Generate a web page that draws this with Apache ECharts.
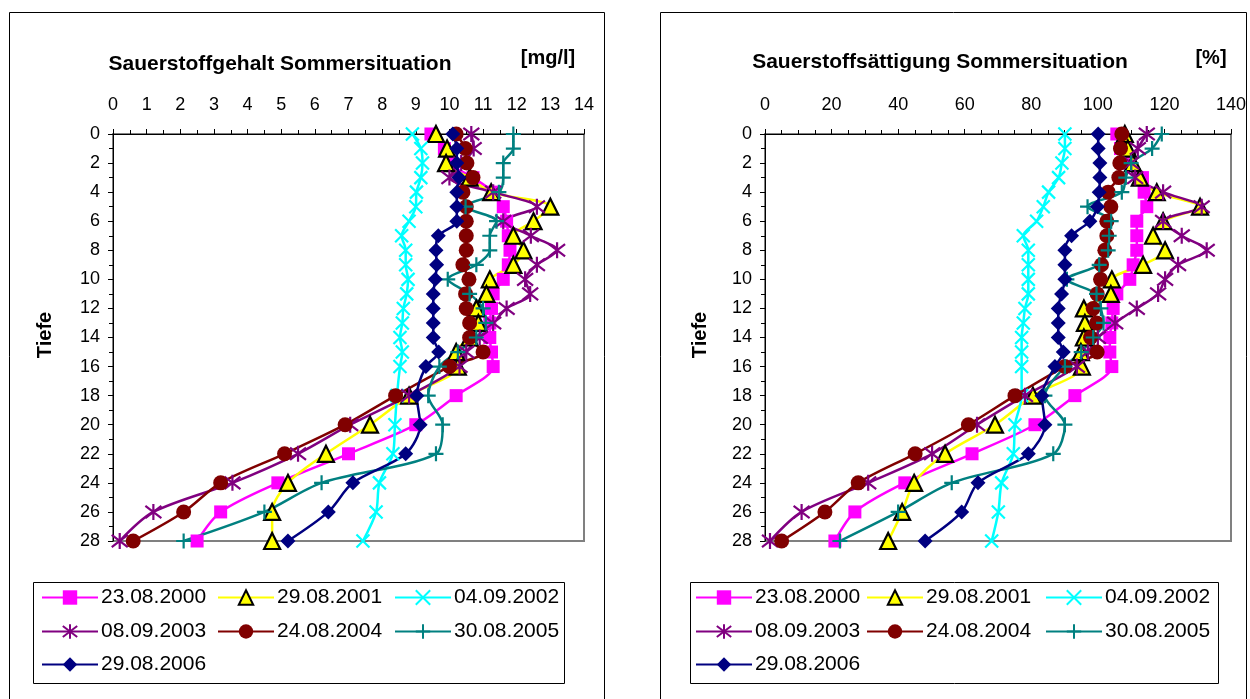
<!DOCTYPE html>
<html><head><meta charset="utf-8">
<script src="https://cdn.jsdelivr.net/npm/echarts@6/dist/echarts.min.js"></script>
<style>html,body{margin:0;padding:0;background:#fff;}#c{width:1250px;height:699px;}</style>
</head><body><div id="c"></div>
<script>
// ---- data ----
const depths = [0,1,2,3,4,5,6,7,8,9,10,11,12,13,14,15,16,18,20,22,24,26,28];
const seriesNames = ['23.08.2000','29.08.2001','04.09.2002','08.09.2003','24.08.2004','30.08.2005','29.08.2006'];

// Sauerstoffgehalt [mg/l]
const mg2000 = [9.45,9.85,10.0,10.7,11.3,11.6,11.7,11.75,11.8,11.75,11.6,11.3,11.25,11.2,11.2,11.25,11.3,10.2,9.0,7.0,4.9,3.2,2.5];
const mg2001 = [9.6,9.93,9.9,10.6,11.24,13.0,12.5,11.9,12.2,11.9,11.2,11.1,10.8,10.86,10.6,10.2,10.25,8.8,7.64,6.33,5.2,4.73,4.73];
const mg2002 = [8.9,9.15,9.2,9.15,9.02,9.0,8.8,8.58,8.7,8.7,8.77,8.73,8.63,8.6,8.53,8.6,8.53,8.44,8.38,8.32,7.92,7.82,7.43];
const mg2003 = [10.65,10.72,10.35,10.0,11.3,12.6,11.6,12.42,13.2,12.6,12.25,12.4,11.7,11.3,10.9,10.5,10.3,8.8,7.05,5.5,3.55,1.2,0.2];
const mg2004 = [10.2,10.47,10.52,10.7,10.4,10.5,10.5,10.5,10.5,10.4,10.58,10.48,10.5,10.6,10.6,11.0,10.0,8.4,6.9,5.1,3.2,2.1,0.6];
const mg2005 = [11.9,11.9,11.6,11.6,11.47,10.48,11.4,11.2,11.2,10.8,9.95,10.6,11.0,11.08,10.8,10.25,9.7,9.37,9.8,9.6,6.2,4.5,2.1];
const mg2006 = [10.1,10.22,10.22,10.28,10.22,10.22,10.22,9.67,9.6,9.62,9.58,9.52,9.52,9.52,9.52,9.68,9.3,9.03,9.13,8.7,7.13,6.4,5.2];

// Sauerstoffsättigung [%]
const sat2000 = [105.7,106.8,107.6,113.4,113.9,114.7,111.7,111.7,111.7,110.6,109.6,105.7,104.6,104.2,103.6,103.6,104.2,93.1,81.1,62.2,42,27,21];
const sat2001 = [108.1,109,110.5,112.6,117.7,130.7,119.6,116.6,120.2,113.6,104.2,103.9,95.8,96.1,95.8,94.9,95.2,80.5,69.1,54.1,44.8,41.2,37];
const sat2002 = [90.1,90.1,89.2,88.2,85.2,83.6,81.6,77.6,79.1,79.1,79.1,79.1,78.1,77.6,77.1,77.1,77.1,77.1,75.1,74.6,71.1,70.1,68.1];
const sat2003 = [114.7,112,110,111.2,119.6,131.2,119.6,125.2,132.7,124.1,120.2,118.1,111.7,105.2,100,97,93.7,78.1,63.7,50.2,31,11,1.5];
const sat2004 = [107.2,106.8,106.6,106.3,103.1,103.9,102.7,102.7,102.1,101.1,100.8,99.8,98.6,99.6,97.8,99.8,90.1,75.1,61.1,45.1,28,18,5];
const sat2005 = [119.2,116.3,110,108.4,107.2,96.9,104,103.4,103.1,100.4,90.7,99.6,100.9,101.7,98.6,95,90.1,84.1,90.1,86.6,56.1,40,22.5];
const sat2006 = [100.1,100.1,100.6,100.6,100.4,99.9,97.6,92.1,90.1,90.1,90.1,89.1,88.1,88.1,88.1,89.6,87.1,83.2,84.1,79.1,64,59.1,48.1];

const mgSeries = [mg2000,mg2001,mg2002,mg2003,mg2004,mg2005,mg2006];
const satSeries = [sat2000,sat2001,sat2002,sat2003,sat2004,sat2005,sat2006];

// ---- styles ----
const FONT = "'Liberation Sans', Arial, sans-serif";
const styles = [
  {color:'#FF00FF', symbol:'rect', size:13, fill:'#FF00FF', stroke:'#FF00FF', bw:0},
  {color:'#FFFF00', symbol:'triangle', size:16, fill:'#FFFF00', stroke:'#000000', bw:2.2},
  {color:'#00FFFF', symbol:'path://M0,0L10,10M10,0L0,10', size:13, fill:'#00FFFF', stroke:'#00FFFF', bw:2.2},
  {color:'#800080', symbol:'path://M0,0L10,10M10,0L0,10M5,-1.5L5,11.5', size:16, fill:'#800080', stroke:'#800080', bw:2.2},
  {color:'#800000', symbol:'circle', size:15, fill:'#800000', stroke:'#800000', bw:0},
  {color:'#008080', symbol:'path://M5,0L5,10M0,5L10,5', size:15, fill:'#008080', stroke:'#008080', bw:2.2},
  {color:'#000080', symbol:'diamond', size:15, fill:'#000080', stroke:'#000080', bw:0}
];

function makeSeries(valsList, axisIdx) {
  return valsList.map((vals, i) => {
    const s = styles[i];
    return {
      type:'line', name: seriesNames[i], xAxisIndex: axisIdx, yAxisIndex: axisIdx,
      data: depths.map((d, j) => [vals[j], d]),
      smooth: 0.3, clip: false,
      symbol: s.symbol, symbolSize: s.size, showAllSymbol: true,
      lineStyle: {color: s.color, width: 2.5},
      itemStyle: {color: s.fill, borderColor: s.stroke, borderWidth: s.bw},
      emphasis: {disabled: true}, animation: false
    };
  });
}

function xAxisCfg(grid, max, interval, minorSplit) {
  return {
    type:'value', gridIndex: grid, position:'top', min:0, max:max, interval:interval,
    axisLine:{show:true, onZero:false, lineStyle:{color:'#000', width:1}},
    axisTick:{show:true, length:5, lineStyle:{color:'#000'}},
    minorTick:{show:true, splitNumber:minorSplit, length:4, lineStyle:{color:'#000'}},
    splitLine:{show:false}, minorSplitLine:{show:false},
    axisLabel:{color:'#000', fontSize:18, fontFamily:FONT, margin:20}
  };
}
function yAxisCfg(grid) {
  return {
    type:'value', gridIndex: grid, inverse:true, min:0, max:28, interval:2,
    axisLine:{show:true, onZero:false, lineStyle:{color:'#000', width:1}},
    axisTick:{show:true, length:5, lineStyle:{color:'#000'}},
    minorTick:{show:true, splitNumber:2, length:4, lineStyle:{color:'#000'}},
    splitLine:{show:false}, minorSplitLine:{show:false},
    axisLabel:{color:'#000', fontSize:18, fontFamily:FONT, margin:13}
  };
}

// legend placement
const legRowsY = [587, 621, 654];
const legColsL = [[41,217,394],[695,866,1045]];
function legends(chartIdx) {
  const out = [];
  seriesNames.forEach((n, i) => {
    const row = Math.floor(i / 3), col = i % 3;
    out.push({
      data:[n], left: legColsL[chartIdx][col], top: legRowsY[row], orient:'horizontal',
      itemWidth:56, itemHeight:18, itemGap:0, padding:0, selectedMode:false,
      textStyle:{color:'#000', fontSize:21, fontFamily:FONT, padding:[0,0,0,-2]}
    });
  });
  return out;
}

function txt(text, x, y, size, bold, rot) {
  return {type:'text', x:x, y:y, rotation: rot || 0, z:100,
    style:{text:text, textAlign:'center', textVerticalAlign:'middle',
      font:(bold?'bold ':'') + size + 'px ' + FONT, fill:'#000'}};
}

const chart = echarts.init(document.getElementById('c'), null, {renderer:'canvas'});
chart.setOption({
  backgroundColor:'#fff',
  animation:false,
  grid:[
    {left:113, top:134, width:471, height:407, show:true, borderColor:'#808080', borderWidth:2, backgroundColor:'transparent'},
    {left:765, top:134, width:466, height:407, show:true, borderColor:'#808080', borderWidth:2, backgroundColor:'transparent'}
  ],
  xAxis:[xAxisCfg(0, 14, 1, 2), xAxisCfg(1, 140, 20, 4)],
  yAxis:[yAxisCfg(0), yAxisCfg(1)],
  legend: legends(0).concat(legends(1)),
  series: makeSeries(mgSeries, 0).concat(makeSeries(satSeries, 1)),
  graphic:[
    {type:'rect', shape:{x:9.5, y:12.5, width:595, height:720}, style:{fill:'none', stroke:'#000', lineWidth:1}, z:-1},
    {type:'rect', shape:{x:660.5, y:12.5, width:586, height:720}, style:{fill:'none', stroke:'#000', lineWidth:1}, z:-1},
    {type:'rect', shape:{x:33.5, y:582.5, width:531, height:101}, style:{fill:'none', stroke:'#000', lineWidth:1}, z:-1},
    {type:'rect', shape:{x:690.5, y:582.5, width:528, height:101}, style:{fill:'none', stroke:'#000', lineWidth:1}, z:-1},
    txt('Sauerstoffgehalt Sommersituation', 280, 64, 21, true),
    txt('[mg/l]', 548, 58, 20, true),
    txt('Sauerstoffsättigung Sommersituation', 940, 62, 21, true),
    txt('[%]', 1211, 58, 20, true),
    txt('Tiefe', 45, 335, 20, true, Math.PI/2),
    txt('Tiefe', 700, 335, 20, true, Math.PI/2)
  ]
});
</script>
</body></html>
